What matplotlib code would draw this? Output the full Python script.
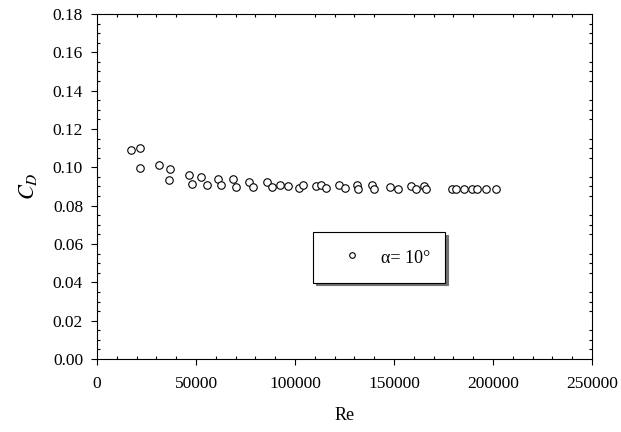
import matplotlib
matplotlib.use("Agg")
import matplotlib.pyplot as plt
from matplotlib.ticker import MultipleLocator, FormatStrFormatter

plt.rcParams['font.family'] = ['Liberation Serif', 'DejaVu Serif']
plt.rcParams['mathtext.fontset'] = 'stix'

re_vals = [17000, 21700, 21700, 31300, 37000, 36400, 46500, 48100, 52400, 55400,
           61300, 62600, 68500, 70200, 76800, 78900, 85900, 88400, 92400, 96600,
           101800, 104200, 110400, 113100, 115900, 122000, 125000, 131100, 131800,
           139100, 139900, 148000, 152000, 158400, 160900, 165200, 166200,
           179500, 181500, 185500, 189500, 192000, 196500, 201500]
cd_vals = [0.1090, 0.1099, 0.0998, 0.1012, 0.0993, 0.0934, 0.0960, 0.0913, 0.0948, 0.0908,
           0.0939, 0.0908, 0.0938, 0.0896, 0.0925, 0.0899, 0.0925, 0.0899, 0.0908, 0.0903,
           0.0892, 0.0910, 0.0900, 0.0908, 0.0892, 0.0908, 0.0892, 0.0908, 0.0887,
           0.0908, 0.0887, 0.0899, 0.0887, 0.0900, 0.0887, 0.0903, 0.0886,
           0.0886, 0.0886, 0.0886, 0.0886, 0.0886, 0.0886, 0.0886]
series_label = "\u03b1= 10\u00b0"
x_label = "Re"
y_label = "$C_D$"

fig = plt.figure(figsize=(6.21, 4.32), dpi=100)
ax = fig.add_axes([97/621, 1 - 359/432, 495/621, 345/432])

ax.plot(re_vals, cd_vals, linestyle='none', marker='o', markersize=5.4,
        markerfacecolor='white', markeredgecolor='black', markeredgewidth=0.8,
        label=series_label)

ax.set_xlim(0, 250000)
ax.set_ylim(0, 0.18)
ax.xaxis.set_major_locator(MultipleLocator(50000))
ax.xaxis.set_minor_locator(MultipleLocator(10000))
ax.yaxis.set_major_locator(MultipleLocator(0.02))
ax.yaxis.set_minor_locator(MultipleLocator(0.005))
ax.yaxis.set_major_formatter(FormatStrFormatter('%.2f'))
ax.xaxis.set_major_formatter(FormatStrFormatter('%d'))

for s in ax.spines.values():
    s.set_linewidth(0.8)

ax.tick_params(which='major', direction='out', length=4.0, width=0.8,
               top=False, right=False, labelsize=12.5, pad=6)
ax.tick_params(which='minor', direction='in', length=2.5, width=0.8,
               top=True, right=True)
ax.tick_params(axis='x', which='major', pad=8)

ax.set_xlabel(x_label, fontsize=13, labelpad=11)
ax.set_ylabel(y_label, fontsize=16, labelpad=10)

leg = ax.legend(loc='center', bbox_to_anchor=(0.57, 0.295), fontsize=13,
                frameon=True, fancybox=False, shadow={'color': '0.45', 'alpha': 1},
                handlelength=2.6, handletextpad=0.3, borderpad=0.85,
                handleheight=1.3, markerscale=0.75)
leg.get_frame().set_edgecolor('black')
leg.get_frame().set_linewidth(0.8)

fig.savefig('out.png', dpi=100)
